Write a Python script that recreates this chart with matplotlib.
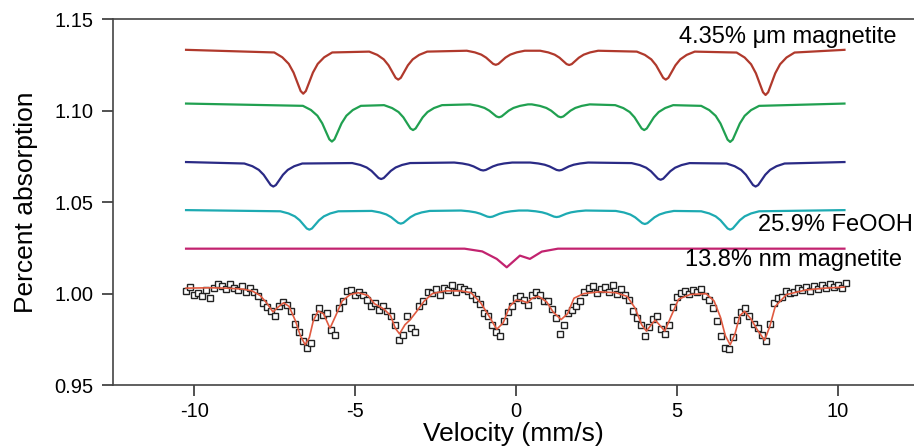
import numpy as np
import matplotlib.pyplot as plt

plt.rcParams['font.family'] = ['Liberation Sans', 'DejaVu Sans']
plt.rcParams['axes.unicode_minus'] = False

# ---- component sextets: base level, line centres (mm/s) and depths ----
red_base = 1.1334
red_centres = [-6.61, -3.66, -0.63, 1.65, 4.65, 7.75]
red_depths = [0.0240, 0.0163, 0.0082, 0.0083, 0.0163, 0.0247]

green_base = 1.1040
green_centres = [-5.72, -3.20, -0.53, 1.39, 3.98, 6.65]
green_depths = [0.0208, 0.0145, 0.0075, 0.0075, 0.0145, 0.0210]

navy_base = 1.0720
navy_centres = [-7.54, -4.19, -1.02, 1.34, 4.49, 7.44]
navy_depths = [0.0134, 0.0093, 0.0046, 0.0046, 0.0097, 0.0134]

cyan_base = 1.0457
cyan_centres = [-6.42, -3.58, -0.81, 1.26, 4.00, 6.65]
cyan_depths = [0.0107, 0.0074, 0.0038, 0.0038, 0.0076, 0.0107]

# dip shape (offset in mm/s, fraction of depth)
dip_dx = [-0.9, -0.65, -0.45, -0.3, -0.18, -0.08, 0.0,
          0.08, 0.18, 0.3, 0.45, 0.65, 0.9]
dip_frac = [0.06, 0.17, 0.32, 0.52, 0.75, 0.94, 1.0,
            0.94, 0.75, 0.52, 0.32, 0.17, 0.06]

# nm magnetite component (broad collapsed line)
mag_x = [-10.25, -1.60, -1.05, -0.60, -0.29, 0.12, 0.43, 0.80, 1.30, 10.20]
mag_y = [1.0246, 1.0246, 1.0231, 1.0190, 1.0144, 1.0208, 1.0190, 1.0230, 1.0246, 1.0246]

# ---- total fit through the data ----
fit_x = [-10.25, -9.5, -9.0, -8.5, -8.2, -7.95, -7.75, -7.55, -7.4, -7.22, -7.05,
         -6.85, -6.7, -6.55, -6.42, -6.3, -6.15, -5.98, -5.78, -5.6, -5.4, -5.15,
         -4.9, -4.6, -4.4, -4.1, -3.9, -3.75, -3.62, -3.45, -3.3, -3.1, -2.85, -2.6,
         -2.2, -1.7, -1.4, -1.1, -0.85, -0.6, -0.4, -0.2, 0.0, 0.2, 0.35, 0.5, 0.7,
         0.95, 1.15, 1.4, 1.6, 1.8, 2.1, 2.6, 3.1, 3.45, 3.7, 3.9, 4.05, 4.2, 4.32,
         4.45, 4.62, 4.8, 5.05, 5.4, 5.9, 6.15, 6.35, 6.5, 6.65, 6.8, 6.95, 7.1, 7.3,
         7.5, 7.72, 7.88, 8.05, 8.4, 9.0, 9.6, 10.2]
fit_y = [1.0030, 1.0032, 1.0030, 1.0025, 1.0015, 0.9990, 0.9950, 0.9900, 0.9925,
         0.9950, 0.9930, 0.9850, 0.9770, 0.9720, 0.9760, 0.9850, 0.9905, 0.9890,
         0.9810, 0.9880, 0.9960, 0.9995, 1.0005, 0.9990, 0.9945, 0.9915, 0.9880,
         0.9810, 0.9780, 0.9830, 0.9855, 0.9900, 0.9960, 1.0000, 1.0015, 1.0015,
         1.0005, 0.9950, 0.9880, 0.9805, 0.9840, 0.9930, 0.9965, 0.9960, 0.9950,
         0.9975, 0.9985, 0.9955, 0.9900, 0.9858, 0.9890, 0.9975, 1.0000, 1.0010,
         1.0005, 0.9985, 0.9920, 0.9830, 0.9795, 0.9830, 0.9855, 0.9830, 0.9795,
         0.9870, 0.9970, 0.9995, 1.0000, 0.9960, 0.9870, 0.9770, 0.9720, 0.9780,
         0.9880, 0.9903, 0.9860, 0.9800, 0.9745, 0.9820, 0.9930, 0.9995, 1.0020,
         1.0030, 1.0036]

# ---- measured spectrum, one value per channel ----
vel_min, vel_max = -10.25, 10.25
counts = [
    1.0012, 1.0035, 0.9990, 1.0005, 0.9985, 1.0020, 0.9978, 1.0030,
    1.0055, 1.0042, 1.0025, 1.0050, 1.0030, 1.0018, 1.0040, 1.0010,
    1.0030, 1.0008, 0.9985, 0.9950, 0.9925, 0.9905, 0.9880, 0.9930,
    0.9955, 0.9940, 0.9905, 0.9835, 0.9790, 0.9740, 0.9705, 0.9730,
    0.9870, 0.9920, 0.9885, 0.9895, 0.9800, 0.9775, 0.9920, 0.9960,
    1.0015, 1.0020, 0.9995, 1.0008, 0.9990, 0.9965, 0.9935, 0.9950,
    0.9910, 0.9935, 0.9905, 0.9880, 0.9830, 0.9745, 0.9775, 0.9880,
    0.9810, 0.9790, 0.9935, 0.9960, 1.0010, 1.0005, 1.0025, 0.9990,
    1.0030, 1.0020, 1.0045, 1.0010, 1.0035, 1.0025, 1.0015, 0.9995,
    0.9970, 0.9945, 0.9895, 0.9880, 0.9830, 0.9790, 0.9770, 0.9850,
    0.9900, 0.9935, 0.9975, 0.9985, 0.9965, 0.9940, 0.9990, 1.0010,
    0.9995, 0.9960, 0.9960, 0.9915, 0.9865, 0.9780, 0.9830, 0.9895,
    0.9910, 0.9935, 0.9960, 1.0010, 1.0030, 1.0040, 1.0005, 1.0025,
    1.0035, 1.0010, 1.0045, 1.0000, 1.0025, 0.9990, 0.9965, 0.9905,
    0.9865, 0.9830, 0.9770, 0.9815, 0.9860, 0.9880, 0.9805, 0.9780,
    0.9830, 0.9925, 0.9980, 1.0005, 1.0015, 1.0000, 1.0020, 1.0010,
    1.0025, 0.9985, 0.9965, 0.9920, 0.9850, 0.9770, 0.9705, 0.9695,
    0.9760, 0.9855, 0.9900, 0.9920, 0.9880, 0.9835, 0.9810, 0.9775,
    0.9740, 0.9835, 0.9950, 0.9975, 0.9980, 1.0015, 1.0005, 1.0010,
    1.0030, 1.0020, 1.0035, 1.0015, 1.0040, 1.0025, 1.0045, 1.0030,
    1.0050, 1.0035, 1.0045, 1.0030, 1.0060,
]

labels = ['4.35% \u03bcm magnetite', '25.9% FeOOH', '13.8% nm magnetite']
label_pos = [(5.06, 1.1404), (7.52, 1.0373), (5.25, 1.0182)]


def sextet(base, centres, depths):
    xs, ys = [vel_min], [base]
    for c, d in zip(centres, depths):
        for dx, f in zip(dip_dx, dip_frac):
            xs.append(c + dx)
            ys.append(base - f * d)
    xs.append(10.2)
    ys.append(base)
    return xs, ys


fig = plt.figure(figsize=(9.14, 4.48), dpi=100)
ax = fig.add_axes([0.1236, 0.1406, 0.8764, 0.8159])

for base, cs, ds, col in [(red_base, red_centres, red_depths, '#b0392c'),
                          (green_base, green_centres, green_depths, '#20a050'),
                          (navy_base, navy_centres, navy_depths, '#2a2a85'),
                          (cyan_base, cyan_centres, cyan_depths, '#1daab2')]:
    xs, ys = sextet(base, cs, ds)
    ax.plot(xs, ys, color=col, lw=1.6)

ax.plot(mag_x, mag_y, color='#c2236f', lw=1.6)

vel = np.linspace(vel_min, vel_max, len(counts))
ax.plot(vel, counts, ls='none', marker='s', ms=5, mfc='white',
        mec='#222222', mew=1.0)
ax.plot(fit_x, fit_y, color='#e05a40', lw=1.2)

for t, (x, y) in zip(labels, label_pos):
    ax.text(x, y, t, fontsize=17, va='center', ha='left')

ax.set_xlim(-12.52, 12.36)
ax.set_ylim(0.95, 1.15)
ax.set_xticks([-10, -5, 0, 5, 10])
ax.set_yticks([0.95, 1.00, 1.05, 1.10, 1.15])
ax.set_yticklabels(['0.95', '1.00', '1.05', '1.10', '1.15'])
ax.tick_params(direction='out', length=8, width=1.2, labelsize=14.5,
               colors='#333333', labelcolor='black')
ax.tick_params(axis='x', pad=4)
ax.tick_params(axis='y', pad=6)
ax.spines['right'].set_visible(False)
for s in ['left', 'bottom', 'top']:
    ax.spines[s].set_linewidth(1.2)
    ax.spines[s].set_color('#444444')
ax.set_xlabel('Velocity (mm/s)', fontsize=19, labelpad=1)
ax.set_ylabel('Percent absorption', fontsize=19, labelpad=12)

fig.savefig('out.png', dpi=100)
